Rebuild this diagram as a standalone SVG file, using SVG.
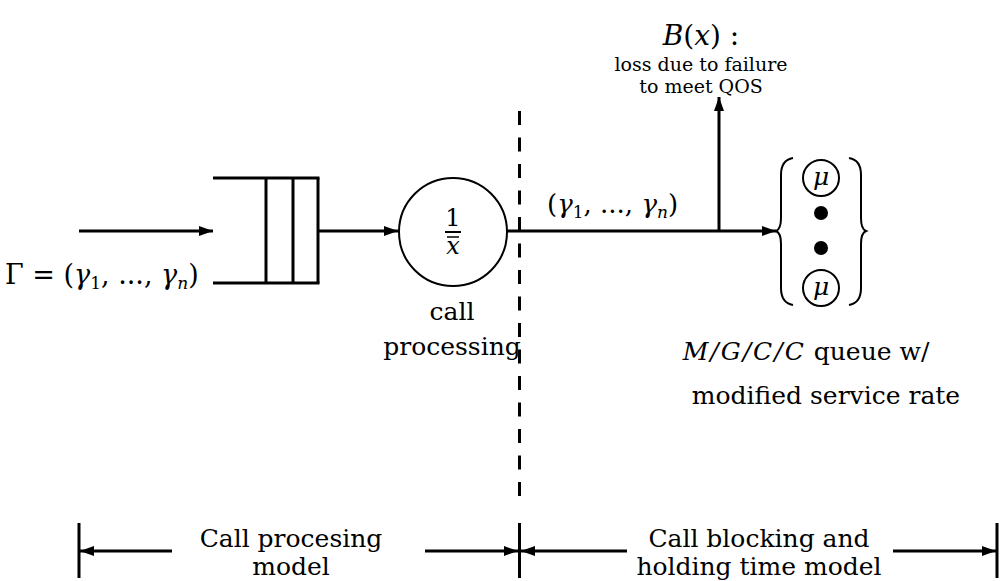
<svg xmlns="http://www.w3.org/2000/svg" width="1001" height="581" viewBox="0 0 1001 581">
  <style>
    .ln { stroke: #000; stroke-width: 3; fill: none; }
    .thin { stroke: #000; stroke-width: 2; fill: none; }
    .dash { stroke: #000; stroke-width: 3; fill: none; stroke-dasharray: 14 12.5; }
    .t { font-size: 25px; fill: #000; }
    .s { font-size: 19px; fill: #000; }
    .it { font-style: italic; }
    .sub { font-size: 17px; }
  </style>
  <defs>
    <marker id="ah" viewBox="0 0 14 10" refX="14" refY="5" markerWidth="14" markerHeight="10" markerUnits="userSpaceOnUse" orient="auto-start-reverse">
      <path d="M0,0 L14,5 L0,10 Z" fill="#000"/>
    </marker>
  </defs>

  <g id="connectors">
    <!-- incoming traffic into the buffer -->
    <line class="ln" x1="79" y1="231" x2="213" y2="231" marker-end="url(#ah)"/>
    <!-- buffer to call processor -->
    <line class="ln" x1="318" y1="231" x2="398" y2="231" marker-end="url(#ah)"/>
    <!-- processor to server bank -->
    <line class="ln" x1="507" y1="231" x2="776" y2="231" marker-end="url(#ah)"/>
    <!-- loss branch -->
    <line class="ln" x1="719" y1="231" x2="719" y2="97" marker-end="url(#ah)"/>
    <!-- model boundary -->
    <line class="dash" x1="519.5" y1="111" x2="519.5" y2="497"/>
  </g>

  <g font-family="DejaVu Serif, serif">
  <g id="input-label">
    <text class="t" x="5" y="284" style="font-size:27px">Γ = (<tspan class="it">γ</tspan><tspan class="sub" dy="5">1</tspan><tspan dy="-5">, ..., </tspan><tspan class="it">γ</tspan><tspan class="sub it" dy="5">n</tspan><tspan dy="-5">)</tspan></text>
  </g>

  <g id="buffer">
    <line class="ln" x1="213" y1="178" x2="319.5" y2="178"/>
    <line class="ln" x1="213" y1="283" x2="319.5" y2="283"/>
    <line class="ln" x1="266" y1="178" x2="266" y2="283"/>
    <line class="ln" x1="293" y1="178" x2="293" y2="283"/>
    <line class="ln" x1="318" y1="178" x2="318" y2="283"/>
  </g>

  <g id="call-processor">
    <circle class="thin" cx="453" cy="232" r="54"/>
    <text class="t" x="453" y="226" text-anchor="middle" style="font-size:24px">1</text>
    <line x1="445" y1="232" x2="461" y2="232" stroke="#000" stroke-width="2"/>
    <text class="t it" x="453" y="254" text-anchor="middle" style="font-size:24px">x</text>
    <line x1="447" y1="237" x2="459" y2="237" stroke="#000" stroke-width="1.5"/>
    <text class="t" x="452" y="320" text-anchor="middle">call</text>
    <text class="t" x="452" y="355" text-anchor="middle">processing</text>
  </g>

  <g id="flow-label">
    <text class="t" x="547" y="213" style="font-size:26px">(<tspan class="it">γ</tspan><tspan class="sub" dy="5">1</tspan><tspan dy="-5">, ..., </tspan><tspan class="it">γ</tspan><tspan class="sub it" dy="5">n</tspan><tspan dy="-5">)</tspan></text>
  </g>

  <g id="loss-label">
    <text class="t" x="701" y="45" text-anchor="middle" style="font-size:28px"><tspan class="it">B</tspan>(<tspan class="it">x</tspan>)  :</text>
    <text class="s" x="701" y="71" text-anchor="middle">loss due to failure</text>
    <text class="s" x="701" y="93" text-anchor="middle">to meet QOS</text>
  </g>

  <g id="server-bank">
    <path class="thin" d="M793,158 Q781,160 781,175 L781,218 Q781,229 776,231 Q781,233 781,244 L781,288 Q781,303 793,305"/>
    <path class="thin" d="M849,158 Q861,160 861,175 L861,218 Q861,229 866,231 Q861,233 861,244 L861,288 Q861,303 849,305"/>
    <circle class="thin" cx="821" cy="178" r="18"/>
    <text class="t it" x="821" y="185" text-anchor="middle" style="font-size:25px">μ</text>
    <circle cx="821" cy="213" r="7" fill="#000"/>
    <circle cx="821" cy="248" r="7" fill="#000"/>
    <circle class="thin" cx="821" cy="288" r="18"/>
    <text class="t it" x="821" y="295" text-anchor="middle" style="font-size:25px">μ</text>
  </g>

  <g id="queue-label">
    <text class="t" x="806" y="360" text-anchor="middle"><tspan class="it" letter-spacing="2">M/G/C/C</tspan> queue w/</text>
    <text class="t" x="826" y="404" text-anchor="middle">modified service rate</text>
  </g>

  <g id="scope-processing">
    <line class="ln" x1="79" y1="523" x2="79" y2="578"/>
    <line class="ln" x1="172" y1="551" x2="80" y2="551" marker-end="url(#ah)"/>
    <line class="ln" x1="425" y1="551" x2="518" y2="551" marker-end="url(#ah)"/>
    <text class="t" x="291" y="547" text-anchor="middle">Call procesing</text>
    <text class="t" x="291" y="575" text-anchor="middle">model</text>
  </g>

  <g id="scope-blocking">
    <line class="ln" x1="519.5" y1="523" x2="519.5" y2="578"/>
    <line class="ln" x1="627" y1="551" x2="521" y2="551" marker-end="url(#ah)"/>
    <line class="ln" x1="893" y1="551" x2="996" y2="551" marker-end="url(#ah)"/>
    <line class="ln" x1="997" y1="523" x2="997" y2="578"/>
    <text class="t" x="759" y="547" text-anchor="middle">Call blocking and</text>
    <text class="t" x="759" y="575" text-anchor="middle">holding time model</text>
  </g>
  </g>
</svg>
